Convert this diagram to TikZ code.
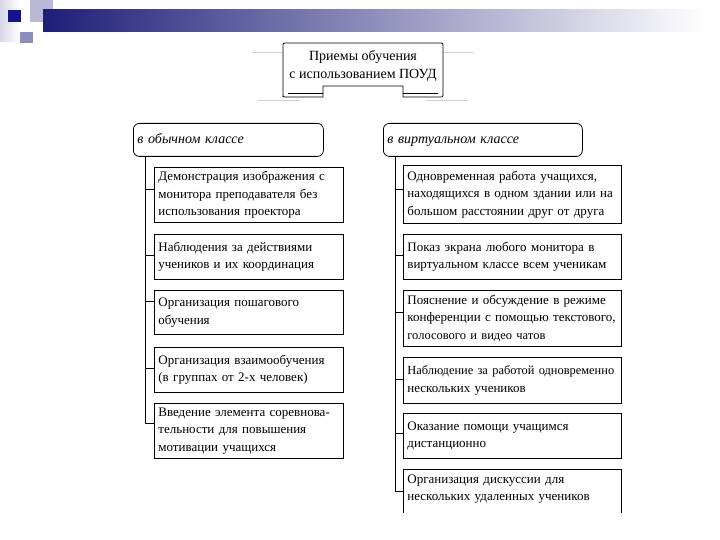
\documentclass[tikz,border=0pt]{standalone}
\usepackage{fontspec}
\setmainfont{Liberation Serif}
\definecolor{navyb}{RGB}{30,30,120}
\definecolor{midb}{RGB}{150,150,185}
\definecolor{lav1}{RGB}{215,215,232}
\definecolor{lav2}{RGB}{185,185,215}
\definecolor{lav3}{RGB}{140,140,190}
\definecolor{dkb}{RGB}{20,20,140}
\begin{document}
\begin{tikzpicture}[x=1pt,y=-1pt,
  item/.style={draw, line width=0.8pt, anchor=north west, inner xsep=4pt, inner ysep=2pt,
    align=left, font=\fontsize{13}{17.5}\selectfont},
  itemL/.style={item, minimum width=189pt, text width=181pt},
  itemR/.style={item, minimum width=218pt, text width=210pt},
  head/.style={draw, line width=0.8pt, rounded corners=6pt, anchor=north west,
    inner xsep=4pt, align=left, font=\fontsize{14}{16}\selectfont\itshape,
    text height=10pt, text depth=3pt, minimum height=33pt},
  link/.style={line width=0.8pt}]
\useasboundingbox (0,0) rectangle (720,540);
% top decoration
\shade[left color=lav1, right color=white] (0,0) rectangle (20,42);
\fill[lav2] (30,0) rectangle (53,22);
\shade[left color=navyb, middle color=midb, right color=white] (43,10) rectangle (705,32);
\fill[lav3] (20,32) rectangle (33,43);
\fill[dkb] (8,10) rectangle (21,22);
\fill[white!90!lav1] (43,32) rectangle (128,35);
% ribbon
\draw[gray!35, line width=0.6pt] (252,52) -- (283,52) (258,100) -- (300,100)
  (443,52) -- (474,52) (426,100) -- (468,100);
\draw[line width=0.8pt, fill=white]
  (283,97) -- (283,47) .. controls (283,43) .. (287,43) -- (439,43)
  .. controls (443,43) .. (443,47) -- (443,93) .. controls (443,97) .. (439,97)
  -- (403,97) -- (403,86) -- (323,86) -- (323,97) -- (287,97) .. controls (283,97) .. (283,93);
\draw[line width=0.6pt] (288,93) -- (323,93) (403,93) -- (438,93);
\node[font=\fontsize{14}{18}\selectfont, align=center] (title) at (363,66)
  {Приемы обучения\\с использованием ПОУД};
% headers
\node[head, minimum width=190pt, text width=182pt] (lh) at (133,123) {в обычном классе};
\node[head, minimum width=199pt, text width=191pt] (rh) at (383,123) {в виртуальном классе};
% left items
\node[itemL, minimum height=55pt] (l1) at (154,167)
  {Демонстрация изображения с\\монитора преподавателя без\\использования проектора};
\node[itemL, minimum height=45pt] (l2) at (154,234)
  {Наблюдения за действиями\\учеников и их координация};
\node[itemL, minimum height=44pt] (l3) at (154,290)
  {Организация пошагового\\обучения};
\node[itemL, minimum height=45pt] (l4) at (154,347)
  {Организация взаимообучения\\(в группах от 2-х человек)};
\node[itemL, minimum height=55pt] (l5) at (154,403)
  {Введение элемента соревнова-\\тельности для повышения\\мотивации учащихся};
% right items
\node[itemR, minimum height=58pt] (r1) at (403,165)
  {Одновременная работа учащихся,\\находящихся в одном здании или на\\большом расстоянии друг от друга};
\node[itemR, minimum height=45pt] (r2) at (403,234)
  {Показ экрана любого монитора в\\виртуальном классе всем ученикам};
\node[itemR, minimum height=56pt] (r3) at (403,290)
  {Пояснение и обсуждение в режиме\\конференции с помощью текстового,\\{\fontsize{12.5}{14}\selectfont голосового и видео чатов}};
\node[itemR, minimum height=46pt] (r4) at (403,357)
  {\mbox{\fontsize{12.4}{17.5}\selectfont Наблюдение за работой одновременно}\\нескольких учеников};
\node[itemR, minimum height=45pt] (r5) at (403,413)
  {Оказание помощи учащимся\\дистанционно};
\node[itemR, draw=none, inner ysep=5pt] (r6) at (403,469)
  {Организация дискуссии для\\нескольких удаленных учеников};
\draw[link] ([yshift=-44pt]r6.north west) -- (r6.north west) -- (r6.north east) -- ++(0,44);
% connectors left
\draw[link] ([xshift=12pt]lh.south west) |- ([yshift=7.5pt]l5.west);
\draw[link] ([yshift=5.5pt]l1.west) -- ++(-9,0);
\draw[link] ([yshift=1.5pt]l2.west) -- ++(-9,0);
\draw[link] ([yshift=11pt]l3.west) -- ++(-9,0);
\draw[link] ([yshift=1.5pt]l4.west) -- ++(-9,0);
% connectors right
\draw[link] ([xshift=12pt]rh.south west) |- ([yshift=-22pt]r6.north west);
\draw[link] ([yshift=5pt]r1.west) -- ++(-8,0);
\draw[link] ([yshift=1.5pt]r2.west) -- ++(-8,0);
\draw[link] ([yshift=6pt]r3.west) -- ++(-8,0);
\draw[link] ([yshift=1pt]r4.west) -- ++(-8,0);
\draw[link] ([yshift=2.5pt]r5.west) -- ++(-8,0);
\end{tikzpicture}
\end{document}
